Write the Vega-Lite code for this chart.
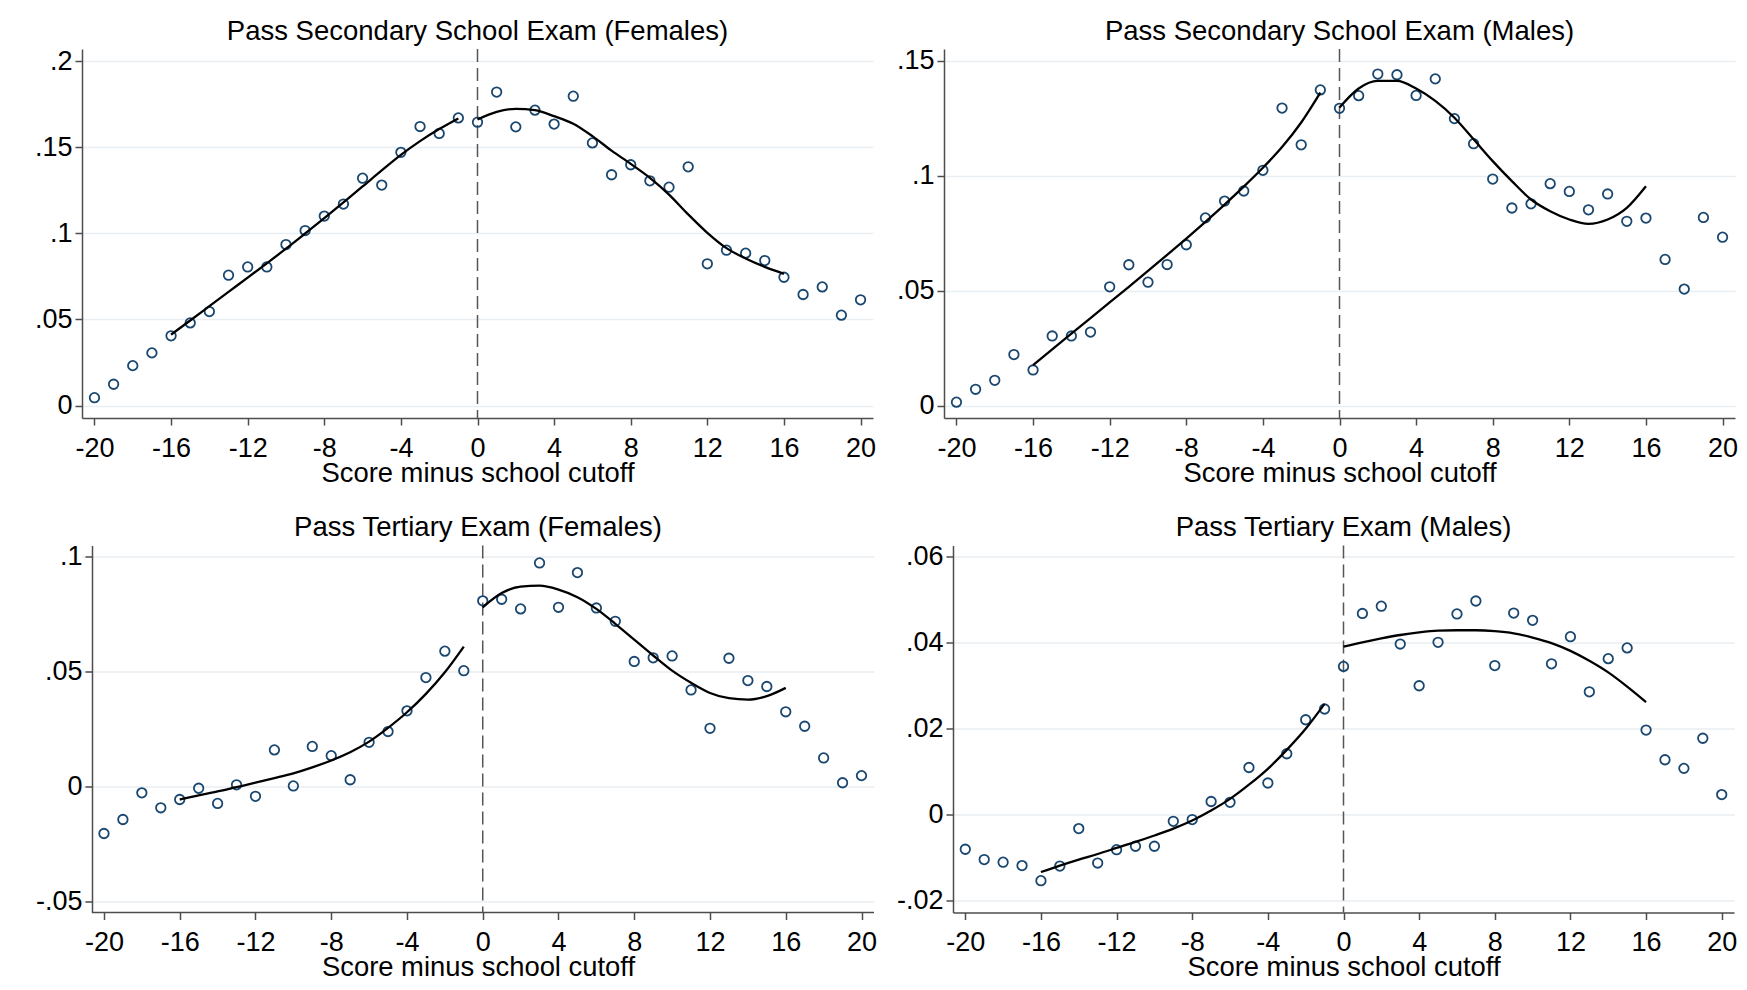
{
  "$schema": "https://vega.github.io/schema/vega-lite/v6.json",
  "background": "white",
  "padding": {"left": 34, "top": 17, "right": 5, "bottom": 5},
  "config": {
    "font": "Liberation Sans",
    "view": {"stroke": null},
    "axis": {
      "labelFont": "Liberation Sans", "labelFontSize": 27, "labelColor": "black",
      "titleFont": "Liberation Sans", "titleFontSize": 27.4, "titleFontWeight": "normal", "titleColor": "black",
      "domainColor": "#4d4d4d", "domainWidth": 1.5, "tickColor": "#4d4d4d", "tickWidth": 1.5, "tickSize": 7,
      "gridColor": "#e8eef1", "gridWidth": 1.3, "labelOverlap": false, "labelFlush": false
    },
    "axisX": {"grid": false, "labelBaseline": "alphabetic", "labelPadding": 31, "titleBaseline": "alphabetic", "titleY": 63,
              "labelExpr": "(datum.value < 0 ? '-' : '') + format(abs(datum.value), 'd')"},
    "axisY": {"grid": true, "labelPadding": 3,
              "labelExpr": "(datum.value < 0 ? '-' : '') + replace(format(abs(datum.value), '~g'), '0.', '.')"},
    "title": {"font": "Liberation Sans", "fontSize": 27.5, "fontWeight": "normal", "color": "black", "anchor": "middle", "frame": "group", "baseline": "alphabetic", "offset": 1.5}
  },
  "datasets": {
    "sf": [
      {"x": -20, "y": 0.0046, "fit": null, "s": "L"}, {"x": -19, "y": 0.0124, "fit": null, "s": "L"}, {"x": -18, "y": 0.0232, "fit": null, "s": "L"}, {"x": -17, "y": 0.0306, "fit": null, "s": "L"},
      {"x": -16, "y": 0.0405, "fit": 0.0412, "s": "L"}, {"x": -15, "y": 0.048, "fit": 0.0494, "s": "L"}, {"x": -14, "y": 0.0546, "fit": 0.0577, "s": "L"}, {"x": -13, "y": 0.0757, "fit": 0.066, "s": "L"},
      {"x": -12, "y": 0.0805, "fit": 0.0743, "s": "L"}, {"x": -11, "y": 0.0805, "fit": 0.0826, "s": "L"}, {"x": -10, "y": 0.0935, "fit": 0.0911, "s": "L"}, {"x": -9, "y": 0.1016, "fit": 0.0999, "s": "L"},
      {"x": -8, "y": 0.110, "fit": 0.1088, "s": "L"}, {"x": -7, "y": 0.117, "fit": 0.118, "s": "L"}, {"x": -6, "y": 0.132, "fit": 0.1272, "s": "L"}, {"x": -5, "y": 0.128, "fit": 0.1365, "s": "L"},
      {"x": -4, "y": 0.147, "fit": 0.1455, "s": "L"}, {"x": -3, "y": 0.162, "fit": 0.1535, "s": "L"}, {"x": -2, "y": 0.158, "fit": 0.1605, "s": "L"}, {"x": -1, "y": 0.167, "fit": 0.1667, "s": "L"},
      {"x": 0, "y": 0.1645, "fit": 0.1661, "s": "R"}, {"x": 1, "y": 0.182, "fit": 0.1705, "s": "R"}, {"x": 2, "y": 0.1618, "fit": 0.1723, "s": "R"}, {"x": 3, "y": 0.1715, "fit": 0.1715, "s": "R"},
      {"x": 4, "y": 0.1634, "fit": 0.168, "s": "R"}, {"x": 5, "y": 0.1796, "fit": 0.1636, "s": "R"}, {"x": 6, "y": 0.1525, "fit": 0.1564, "s": "R"}, {"x": 7, "y": 0.134, "fit": 0.148, "s": "R"},
      {"x": 8, "y": 0.1398, "fit": 0.1403, "s": "R"}, {"x": 9, "y": 0.1305, "fit": 0.1322, "s": "R"}, {"x": 10, "y": 0.1268, "fit": 0.1225, "s": "R"}, {"x": 11, "y": 0.1386, "fit": 0.111, "s": "R"},
      {"x": 12, "y": 0.0823, "fit": 0.1003, "s": "R"}, {"x": 13, "y": 0.0902, "fit": 0.0914, "s": "R"}, {"x": 14, "y": 0.0885, "fit": 0.0854, "s": "R"}, {"x": 15, "y": 0.0842, "fit": 0.0805, "s": "R"},
      {"x": 16, "y": 0.0745, "fit": 0.0765, "s": "R"}, {"x": 17, "y": 0.0645, "fit": null, "s": "R"}, {"x": 18, "y": 0.0689, "fit": null, "s": "R"}, {"x": 19, "y": 0.0525, "fit": null, "s": "R"},
      {"x": 20, "y": 0.0614, "fit": null, "s": "R"}
    ],
    "sm": [
      {"x": -20, "y": 0.0015, "fit": null, "s": "L"}, {"x": -19, "y": 0.0071, "fit": null, "s": "L"}, {"x": -18, "y": 0.011, "fit": null, "s": "L"}, {"x": -17, "y": 0.0222, "fit": null, "s": "L"},
      {"x": -16, "y": 0.0155, "fit": 0.0176, "s": "L"}, {"x": -15, "y": 0.0303, "fit": 0.0245, "s": "L"}, {"x": -14, "y": 0.0303, "fit": 0.0313, "s": "L"}, {"x": -13, "y": 0.032, "fit": 0.0381, "s": "L"},
      {"x": -12, "y": 0.0517, "fit": 0.0449, "s": "L"}, {"x": -11, "y": 0.0613, "fit": 0.0517, "s": "L"}, {"x": -10, "y": 0.0537, "fit": 0.0586, "s": "L"}, {"x": -9, "y": 0.0614, "fit": 0.0656, "s": "L"},
      {"x": -8, "y": 0.070, "fit": 0.0727, "s": "L"}, {"x": -7, "y": 0.0817, "fit": 0.08, "s": "L"}, {"x": -6, "y": 0.089, "fit": 0.0875, "s": "L"}, {"x": -5, "y": 0.0934, "fit": 0.0953, "s": "L"},
      {"x": -4, "y": 0.1024, "fit": 0.1035, "s": "L"}, {"x": -3, "y": 0.1295, "fit": 0.1125, "s": "L"}, {"x": -2, "y": 0.1135, "fit": 0.1232, "s": "L"}, {"x": -1, "y": 0.1374, "fit": 0.1362, "s": "L"},
      {"x": 0, "y": 0.1294, "fit": 0.1297, "s": "R"}, {"x": 1, "y": 0.1349, "fit": 0.138, "s": "R"}, {"x": 2, "y": 0.1443, "fit": 0.1413, "s": "R"}, {"x": 3, "y": 0.144, "fit": 0.1413, "s": "R"},
      {"x": 4, "y": 0.135, "fit": 0.138, "s": "R"}, {"x": 5, "y": 0.1422, "fit": 0.1326, "s": "R"}, {"x": 6, "y": 0.1249, "fit": 0.1253, "s": "R"}, {"x": 7, "y": 0.114, "fit": 0.1159, "s": "R"},
      {"x": 8, "y": 0.0986, "fit": 0.1064, "s": "R"}, {"x": 9, "y": 0.086, "fit": 0.0977, "s": "R"}, {"x": 10, "y": 0.0878, "fit": 0.0897, "s": "R"}, {"x": 11, "y": 0.0966, "fit": 0.0846, "s": "R"},
      {"x": 12, "y": 0.0932, "fit": 0.081, "s": "R"}, {"x": 13, "y": 0.0852, "fit": 0.0791, "s": "R"}, {"x": 14, "y": 0.0921, "fit": 0.081, "s": "R"}, {"x": 15, "y": 0.0802, "fit": 0.0861, "s": "R"},
      {"x": 16, "y": 0.0816, "fit": 0.0955, "s": "R"}, {"x": 17, "y": 0.0636, "fit": null, "s": "R"}, {"x": 18, "y": 0.0507, "fit": null, "s": "R"}, {"x": 19, "y": 0.0819, "fit": null, "s": "R"},
      {"x": 20, "y": 0.0733, "fit": null, "s": "R"}
    ],
    "tf": [
      {"x": -20, "y": -0.0206, "fit": null, "s": "L"}, {"x": -19, "y": -0.0145, "fit": null, "s": "L"}, {"x": -18, "y": -0.0029, "fit": null, "s": "L"}, {"x": -17, "y": -0.0094, "fit": null, "s": "L"},
      {"x": -16, "y": -0.0058, "fit": -0.0058, "s": "L"}, {"x": -15, "y": -0.0009, "fit": -0.004, "s": "L"}, {"x": -14, "y": -0.0075, "fit": -0.0023, "s": "L"}, {"x": -13, "y": 0.0006, "fit": -0.0004, "s": "L"},
      {"x": -12, "y": -0.0044, "fit": 0.0015, "s": "L"}, {"x": -11, "y": 0.0158, "fit": 0.0035, "s": "L"}, {"x": -10, "y": 0.0001, "fit": 0.0056, "s": "L"}, {"x": -9, "y": 0.0173, "fit": 0.0082, "s": "L"},
      {"x": -8, "y": 0.0133, "fit": 0.0112, "s": "L"}, {"x": -7, "y": 0.0028, "fit": 0.0148, "s": "L"}, {"x": -6, "y": 0.0191, "fit": 0.0194, "s": "L"}, {"x": -5, "y": 0.0238, "fit": 0.0254, "s": "L"},
      {"x": -4, "y": 0.0328, "fit": 0.0322, "s": "L"}, {"x": -3, "y": 0.0473, "fit": 0.0402, "s": "L"}, {"x": -2, "y": 0.0588, "fit": 0.0496, "s": "L"}, {"x": -1, "y": 0.0503, "fit": 0.0608, "s": "L"},
      {"x": 0, "y": 0.0807, "fit": 0.0779, "s": "R"}, {"x": 1, "y": 0.0814, "fit": 0.0841, "s": "R"}, {"x": 2, "y": 0.0772, "fit": 0.0869, "s": "R"}, {"x": 3, "y": 0.0972, "fit": 0.0873, "s": "R"},
      {"x": 4, "y": 0.0779, "fit": 0.0856, "s": "R"}, {"x": 5, "y": 0.093, "fit": 0.0823, "s": "R"}, {"x": 6, "y": 0.0776, "fit": 0.0772, "s": "R"}, {"x": 7, "y": 0.0718, "fit": 0.0707, "s": "R"},
      {"x": 8, "y": 0.0543, "fit": 0.0638, "s": "R"}, {"x": 9, "y": 0.0559, "fit": 0.0569, "s": "R"}, {"x": 10, "y": 0.0567, "fit": 0.0503, "s": "R"}, {"x": 11, "y": 0.0419, "fit": 0.045, "s": "R"},
      {"x": 12, "y": 0.0252, "fit": 0.0406, "s": "R"}, {"x": 13, "y": 0.0557, "fit": 0.0383, "s": "R"}, {"x": 14, "y": 0.046, "fit": 0.0377, "s": "R"}, {"x": 15, "y": 0.0434, "fit": 0.0392, "s": "R"},
      {"x": 16, "y": 0.0324, "fit": 0.0428, "s": "R"}, {"x": 17, "y": 0.0261, "fit": null, "s": "R"}, {"x": 18, "y": 0.0123, "fit": null, "s": "R"}, {"x": 19, "y": 0.0015, "fit": null, "s": "R"},
      {"x": 20, "y": 0.0046, "fit": null, "s": "R"}
    ],
    "tm": [
      {"x": -20, "y": -0.008, "fit": null, "s": "L"}, {"x": -19, "y": -0.0104, "fit": null, "s": "L"}, {"x": -18, "y": -0.011, "fit": null, "s": "L"}, {"x": -17, "y": -0.0118, "fit": null, "s": "L"},
      {"x": -16, "y": -0.0153, "fit": -0.0133, "s": "L"}, {"x": -15, "y": -0.0119, "fit": -0.0118, "s": "L"}, {"x": -14, "y": -0.0032, "fit": -0.0104, "s": "L"}, {"x": -13, "y": -0.0112, "fit": -0.0091, "s": "L"},
      {"x": -12, "y": -0.0081, "fit": -0.0077, "s": "L"}, {"x": -11, "y": -0.0073, "fit": -0.0063, "s": "L"}, {"x": -10, "y": -0.0073, "fit": -0.0048, "s": "L"}, {"x": -9, "y": -0.0015, "fit": -0.0032, "s": "L"},
      {"x": -8, "y": -0.0011, "fit": -0.0013, "s": "L"}, {"x": -7, "y": 0.0031, "fit": 0.001, "s": "L"}, {"x": -6, "y": 0.0029, "fit": 0.0037, "s": "L"}, {"x": -5, "y": 0.011, "fit": 0.007, "s": "L"},
      {"x": -4, "y": 0.0074, "fit": 0.0107, "s": "L"}, {"x": -3, "y": 0.0142, "fit": 0.0151, "s": "L"}, {"x": -2, "y": 0.0221, "fit": 0.02, "s": "L"}, {"x": -1, "y": 0.0246, "fit": 0.0258, "s": "L"},
      {"x": 0, "y": 0.0345, "fit": 0.0391, "s": "R"}, {"x": 1, "y": 0.0468, "fit": 0.0401, "s": "R"}, {"x": 2, "y": 0.0485, "fit": 0.041, "s": "R"}, {"x": 3, "y": 0.0397, "fit": 0.0418, "s": "R"},
      {"x": 4, "y": 0.030, "fit": 0.0424, "s": "R"}, {"x": 5, "y": 0.0401, "fit": 0.0428, "s": "R"}, {"x": 6, "y": 0.0467, "fit": 0.0429, "s": "R"}, {"x": 7, "y": 0.0497, "fit": 0.0429, "s": "R"},
      {"x": 8, "y": 0.0347, "fit": 0.0427, "s": "R"}, {"x": 9, "y": 0.0469, "fit": 0.0422, "s": "R"}, {"x": 10, "y": 0.0452, "fit": 0.0412, "s": "R"}, {"x": 11, "y": 0.0351, "fit": 0.0399, "s": "R"},
      {"x": 12, "y": 0.0414, "fit": 0.0381, "s": "R"}, {"x": 13, "y": 0.0286, "fit": 0.0358, "s": "R"}, {"x": 14, "y": 0.0363, "fit": 0.0331, "s": "R"}, {"x": 15, "y": 0.0388, "fit": 0.0298, "s": "R"},
      {"x": 16, "y": 0.0197, "fit": 0.0262, "s": "R"}, {"x": 17, "y": 0.0128, "fit": null, "s": "R"}, {"x": 18, "y": 0.0108, "fit": null, "s": "R"}, {"x": 19, "y": 0.0178, "fit": null, "s": "R"},
      {"x": 20, "y": 0.0047, "fit": null, "s": "R"}
    ]
  },
  "columns": 2,
  "align": {"row": "all", "column": "none"},
  "spacing": {"row": 26.5, "column": 19},
  "concat": [
    {
      "title": "Pass Secondary School Exam (Females)",
      "width": 791, "height": 369,
      "data": {"name": "sf"},
      "encoding": {"x": {"field": "x", "type": "quantitative", "scale": {"domain": [-20.65, 20.65], "nice": false, "zero": false}, "axis": {"values": [-20, -16, -12, -8, -4, 0, 4, 8, 12, 16, 20], "title": "Score minus school cutoff"}}},
      "layer": [
        {"transform": [{"filter": "datum.x == 0"}], "mark": {"type": "rule", "color": "#555555", "strokeWidth": 1.5, "strokeDash": [13, 6]}, "encoding": {}},
        {"mark": {"type": "point", "shape": "circle", "filled": false, "stroke": "#1a476f", "strokeWidth": 1.8, "size": 90, "opacity": 1},
         "encoding": {"y": {"field": "y", "type": "quantitative", "title": null, "scale": {"domain": [-0.0072, 0.207], "nice": false, "zero": false}, "axis": {"values": [0, 0.05, 0.1, 0.15, 0.2]}}}},
        {"transform": [{"filter": "datum.fit != null"}], "mark": {"type": "line", "color": "black", "strokeWidth": 2.3, "interpolate": "monotone"},
         "encoding": {"y": {"field": "fit", "type": "quantitative", "title": null}, "detail": {"field": "s"}}}
      ]
    },
    {
      "title": "Pass Secondary School Exam (Males)",
      "width": 791, "height": 369,
      "data": {"name": "sm"},
      "encoding": {"x": {"field": "x", "type": "quantitative", "scale": {"domain": [-20.65, 20.65], "nice": false, "zero": false}, "axis": {"values": [-20, -16, -12, -8, -4, 0, 4, 8, 12, 16, 20], "title": "Score minus school cutoff"}}},
      "layer": [
        {"transform": [{"filter": "datum.x == 0"}], "mark": {"type": "rule", "color": "#555555", "strokeWidth": 1.5, "strokeDash": [13, 6]}, "encoding": {}},
        {"mark": {"type": "point", "shape": "circle", "filled": false, "stroke": "#1a476f", "strokeWidth": 1.8, "size": 90, "opacity": 1},
         "encoding": {"y": {"field": "y", "type": "quantitative", "title": null, "scale": {"domain": [-0.0054, 0.1552], "nice": false, "zero": false}, "axis": {"values": [0, 0.05, 0.1, 0.15]}}}},
        {"transform": [{"filter": "datum.fit != null"}], "mark": {"type": "line", "color": "black", "strokeWidth": 2.3, "interpolate": "monotone"},
         "encoding": {"y": {"field": "fit", "type": "quantitative", "title": null}, "detail": {"field": "s"}}}
      ]
    },
    {
      "title": "Pass Tertiary Exam (Females)",
      "width": 792, "height": 367,
      "data": {"name": "tf"},
      "encoding": {"x": {"field": "x", "type": "quantitative", "scale": {"domain": [-21.16, 20.66], "nice": false, "zero": false}, "axis": {"values": [-20, -16, -12, -8, -4, 0, 4, 8, 12, 16, 20], "title": "Score minus school cutoff", "domain": false}}},
      "layer": [
        {"transform": [{"filter": "datum.x == 0"}], "mark": {"type": "rule", "color": "#555555", "strokeWidth": 1.5, "strokeDash": [13, 6]}, "encoding": {}},
        {"transform": [{"filter": "datum.x == 0"}], "mark": {"type": "rule", "color": "#4d4d4d", "strokeWidth": 1.5},
         "encoding": {"x": {"datum": -20.63, "type": "quantitative"}, "x2": {"datum": 20.66}, "y": {"datum": -0.055, "type": "quantitative"}}},
        {"mark": {"type": "point", "shape": "circle", "filled": false, "stroke": "#1a476f", "strokeWidth": 1.8, "size": 90, "opacity": 1},
         "encoding": {"y": {"field": "y", "type": "quantitative", "title": null, "scale": {"domain": [-0.055, 0.1048], "nice": false, "zero": false}, "axis": {"values": [-0.05, 0, 0.05, 0.1], "offset": -10}}}},
        {"transform": [{"filter": "datum.fit != null"}], "mark": {"type": "line", "color": "black", "strokeWidth": 2.3, "interpolate": "monotone"},
         "encoding": {"y": {"field": "fit", "type": "quantitative", "title": null}, "detail": {"field": "s"}}}
      ]
    },
    {
      "title": "Pass Tertiary Exam (Males)",
      "width": 781, "height": 367,
      "data": {"name": "tm"},
      "encoding": {"x": {"field": "x", "type": "quantitative", "scale": {"domain": [-20.65, 20.65], "nice": false, "zero": false}, "axis": {"values": [-20, -16, -12, -8, -4, 0, 4, 8, 12, 16, 20], "title": "Score minus school cutoff"}}},
      "layer": [
        {"transform": [{"filter": "datum.x == 0"}], "mark": {"type": "rule", "color": "#555555", "strokeWidth": 1.5, "strokeDash": [13, 6]}, "encoding": {}},
        {"mark": {"type": "point", "shape": "circle", "filled": false, "stroke": "#1a476f", "strokeWidth": 1.8, "size": 90, "opacity": 1},
         "encoding": {"y": {"field": "y", "type": "quantitative", "title": null, "scale": {"domain": [-0.0227, 0.0626], "nice": false, "zero": false}, "axis": {"values": [-0.02, 0, 0.02, 0.04, 0.06]}}}},
        {"transform": [{"filter": "datum.fit != null"}], "mark": {"type": "line", "color": "black", "strokeWidth": 2.3, "interpolate": "monotone"},
         "encoding": {"y": {"field": "fit", "type": "quantitative", "title": null}, "detail": {"field": "s"}}}
      ]
    }
  ]
}
